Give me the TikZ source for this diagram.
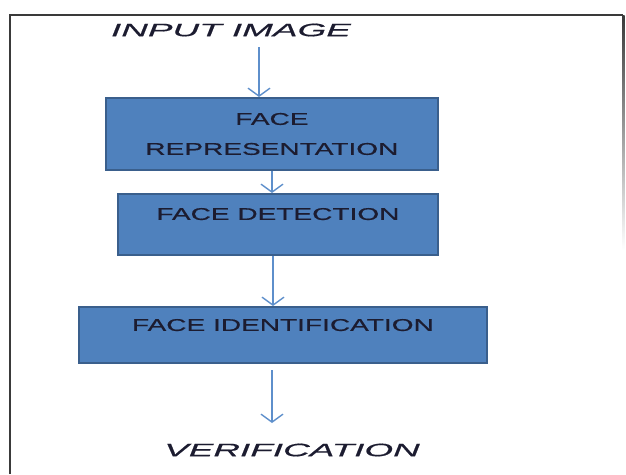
\documentclass[tikz,border=0pt]{standalone}
\usepackage{fontspec}
\usetikzlibrary{arrows.meta,calc}
\newfontfamily\boxfont[FakeStretch=1.65,FakeBold=0.6]{Liberation Sans}
\newfontfamily\labfont[FakeStretch=2.05,FakeBold=0.6]{Liberation Sans}
\definecolor{boxfill}{HTML}{4F81BD}
\definecolor{boxedge}{HTML}{3A5F8C}
\definecolor{arrowblue}{HTML}{5E8FCB}
\definecolor{inktext}{HTML}{1C1C30}
\definecolor{framegray}{HTML}{3A3A3A}
\tikzset{
  stage/.style={draw=boxedge, fill=boxfill, line width=1.8pt, rectangle,
    anchor=north west, inner sep=0pt, align=center, text=inktext,
    font=\boxfont\fontsize{17}{30}\selectfont},
  endlabel/.style={text=inktext, inner sep=0pt,
    font=\labfont\itshape\fontsize{18}{20}\selectfont},
  flow/.style={draw=arrowblue, line width=1.4pt,
    -{Straight Barb[length=8pt,width=22pt,line width=1.4pt]}}
}
\begin{document}
\begin{tikzpicture}[x=1pt,y=-1pt]
  \useasboundingbox (0,0) rectangle (626,474);
  % outer frame: top and left edges, right edge fading out
  \draw[framegray, line width=2pt] (10,474) -- (10,15) -- (623,15);
  \shade[top color=framegray, bottom color=white] (622,15) rectangle (624.5,250);

  % end labels
  \node[endlabel] (in) at (231,30) {INPUT IMAGE};
  \node[endlabel] (out) at (292,450) {VERIFICATION};

  % processing stages
  \node[stage, minimum width=332pt, minimum height=72pt, text depth=-12pt] (rep) at (105,97)
    {FACE\\REPRESENTATION};
  \node[stage, minimum width=320pt, minimum height=61pt, text height=12pt, text depth=21pt] (det) at (117,193)
    {FACE DETECTION};
  \node[stage, minimum width=408pt, minimum height=56pt, text height=12pt, text depth=20pt] (ident) at (78,306)
    {FACE IDENTIFICATION};

  % connector end points
  \coordinate (a1) at (259,47);
  \coordinate (a4) at (272,370);
  \coordinate (a5) at (272,423);

  \draw[flow] (a1) -- (a1 |- rep.north);
  \draw[flow] ($(rep.south west)+(167,0)$) -- ($(det.north west)+(155,0)$);
  \draw[flow] ($(det.south west)+(156,0)$) -- ($(ident.north west)+(195,0)$);
  \draw[flow] (a4) -- (a5);
\end{tikzpicture}
\end{document}
